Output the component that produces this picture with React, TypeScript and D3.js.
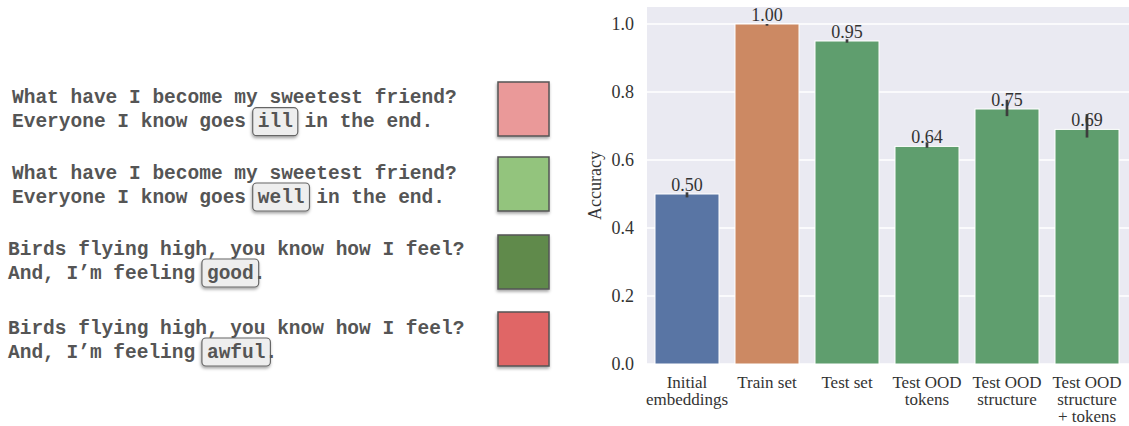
import * as d3 from "d3";

// left panel: prompt pairs with the highlighted word
const promptFirstLines = [
  "What have I become my sweetest friend?",
  "What have I become my sweetest friend?",
  "Birds flying high, you know how I feel?",
  "Birds flying high, you know how I feel?",
];
const promptPrefixes = ["Everyone I know goes ", "Everyone I know goes ", "And, I\u2019m feeling ", "And, I\u2019m feeling "];
const promptWords = ["ill", "well", "good", "awful"];
const promptSuffixes = [" in the end.", " in the end.", ".", "."];
const swatchColors = ["#EA9999", "#93C47D", "#618A4C", "#E06666"];

// right panel: bar chart
const categories = ["Initial|embeddings", "Train set", "Test set", "Test OOD|tokens", "Test OOD|structure", "Test OOD|structure|+ tokens"];
const accuracy = [0.5, 1.0, 0.95, 0.64, 0.75, 0.69];
const errLow = [0.49, 0.995, 0.945, 0.636, 0.729, 0.666];
const errHigh = [0.505, 1.0, 0.955, 0.652, 0.777, 0.735];
const barColors = ["#5975A4", "#CC8963", "#5F9E6E", "#5F9E6E", "#5F9E6E", "#5F9E6E"];
const yTicks = [0, 0.2, 0.4, 0.6, 0.8, 1.0];

const W = 1129;
const H = 426;
const FS = 19.5;
const CW = FS * 0.6;
const textX = [12, 12, 8, 8];
const blockCenters = [97.7, 173, 249, 328];
const lineGap = 24;
const swatchTops = [82, 157, 235, 312];

export default function App() {
  const x = d3.scaleBand<string>().domain(categories).range([647, 1127]).paddingInner(0.2).paddingOuter(0.1);
  const y = d3.scaleLinear().domain([0, 1.05]).range([364, 7]);
  const fmt = d3.format(".2f");
  const serif = "'Liberation Serif', 'Times New Roman', serif";
  const mono = "'Liberation Mono', 'Courier New', monospace";
  const labelSize = 18;

  return (
    <svg width={W} height={H} style={{ position: "absolute", left: 0, top: 0, background: "#fff" }}>
      <defs>
        <filter id="shadow" x="-20%" y="-20%" width="150%" height="150%">
          <feDropShadow dx="-0.5" dy="2" stdDeviation="1.5" floodColor="#000" floodOpacity="0.35" />
        </filter>
      </defs>

      {/* prompts */}
      {promptFirstLines.map((line, i) => {
        const c1 = blockCenters[i];
        const c2 = c1 + lineGap;
        const bx = textX[i] + promptPrefixes[i].length * CW;
        return (
          <g key={i} fontFamily={mono} fontWeight="bold" fontSize={FS} fill="#555">
            <rect
              x={bx - 5}
              y={c2 - 14}
              width={promptWords[i].length * CW + 10}
              height={28}
              rx={4}
              fill="#eeeeee"
              stroke="#666"
              strokeWidth={1.2}
              filter="url(#shadow)"
            />
            <text x={textX[i]} y={c1 + 5.5}>{line}</text>
            <text x={textX[i]} y={c2 + 5.5} style={{ whiteSpace: "pre" }}>
              {promptPrefixes[i] + promptWords[i] + promptSuffixes[i]}
            </text>
            <rect
              x={498}
              y={swatchTops[i]}
              width={51}
              height={54}
              fill={swatchColors[i]}
              stroke="#555"
              strokeWidth={1.5}
              filter="url(#shadow)"
            />
          </g>
        );
      })}

      {/* bar chart */}
      <rect x={647} y={7} width={482} height={357} fill="#EAEAF2" />
      {yTicks.map((t) => (
        <g key={t}>
          <line x1={647} x2={1129} y1={y(t)} y2={y(t)} stroke="#fff" strokeWidth={1.4} />
          <text x={634} y={y(t)} dy="0.35em" textAnchor="end" fontFamily={serif} fontSize={labelSize} fill="#333">
            {t.toFixed(1)}
          </text>
        </g>
      ))}
      {categories.map((c, i) => {
        const bx = x(c)!;
        const cx = bx + x.bandwidth() / 2;
        return (
          <g key={c}>
            <rect x={bx} y={y(accuracy[i])} width={x.bandwidth()} height={y(0) - y(accuracy[i])} fill={barColors[i]} stroke="#fff" strokeWidth={1} />
            <line x1={cx} x2={cx} y1={y(errLow[i])} y2={y(errHigh[i])} stroke="#3d3d3d" strokeWidth={2.7} />
            <text x={cx} y={y(accuracy[i]) - 3} textAnchor="middle" fontFamily={serif} fontSize={labelSize} fill="#333">
              {fmt(accuracy[i])}
            </text>
            {c.split("|").map((part, j) => (
              <text key={j} x={cx} y={388 + j * 17} textAnchor="middle" fontFamily={serif} fontSize={17} fill="#333">
                {part}
              </text>
            ))}
          </g>
        );
      })}
      <text transform={`translate(601,${(y(0) + y(1.05)) / 2}) rotate(-90)`} textAnchor="middle" fontFamily={serif} fontSize={labelSize} fill="#333">
        Accuracy
      </text>
    </svg>
  );
}
